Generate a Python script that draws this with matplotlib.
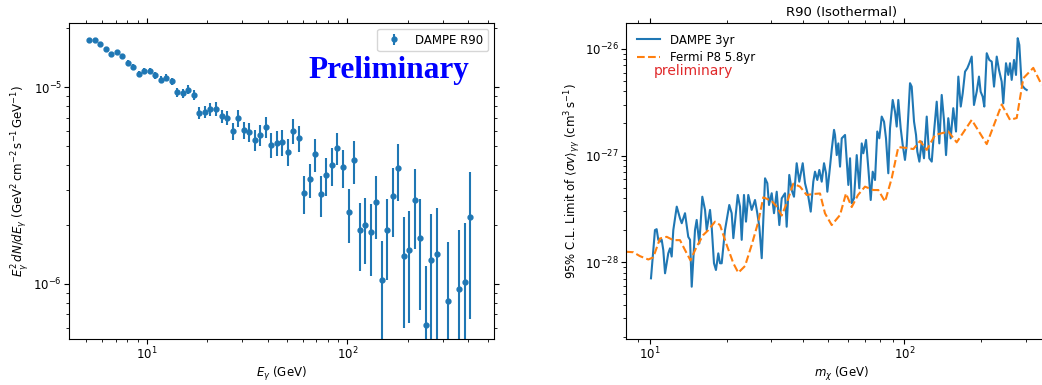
import matplotlib
matplotlib.use('Agg')
import matplotlib.pyplot as plt
import numpy as np

plt.rcParams['font.family'] = ['DejaVu Sans']
plt.rcParams['font.size'] = 8.5
plt.rcParams['mathtext.fontset'] = 'dejavusans'

# spectrum in the R90 region (GeV, flux in 1e-6 GeV cm^-2 s^-1)
energy = [5.16, 5.50, 5.85, 6.24, 6.65, 7.08, 7.54, 8.04, 8.56, 9.12,
          9.72, 10.35, 11.03, 11.75, 12.52, 13.34, 14.21, 15.14, 16.14, 17.19,
          18.32, 19.52, 20.79, 22.15, 23.61, 25.15, 26.80, 28.55, 30.41, 32.40,
          34.52, 36.78, 39.18, 41.75, 44.48, 47.39, 50.48, 53.79, 57.31, 61.05,
          65.05, 69.30, 73.83, 78.67, 83.81, 89.29, 95.13, 101.4, 108.0, 115.1,
          122.6, 130.6, 139.1, 148.3, 158.0, 168.3, 179.3, 191.0, 203.5, 216.8,
          231.0, 246.1, 262.2, 279.4, 317.1, 360.0, 383.6, 408.6]
flux = [17.3, 17.4, 16.6, 15.6, 14.8, 15.1, 14.4, 13.3, 12.7, 11.7,
        12.1, 12.1, 11.5, 10.9, 11.2, 10.7, 9.40, 9.32, 9.72, 9.14,
        7.43, 7.46, 7.73, 7.76, 7.13, 7.01, 6.00, 6.95, 6.07, 5.93,
        5.40, 5.74, 6.28, 5.09, 5.23, 5.25, 4.71, 6.00, 5.50, 2.91,
        3.41, 4.58, 2.87, 3.58, 4.01, 4.93, 3.94, 2.33, 4.26, 1.87,
        2.00, 1.83, 2.62, 1.05, 1.87, 2.81, 3.90, 1.39, 1.49, 2.67,
        1.72, 0.617, 1.32, 1.42, 0.82, 0.947, 1.02, 2.19]
flux_err = [0.43, 0.43, 0.42, 0.39, 0.37, 0.38, 0.36, 0.45, 0.44, 0.41,
            0.42, 0.45, 0.44, 0.44, 0.47, 0.48, 0.47, 0.48, 0.50, 0.50,
            0.52, 0.52, 0.58, 0.66, 0.57, 0.60, 0.60, 0.70, 0.61, 0.65,
            0.65, 0.69, 0.75, 0.74, 0.78, 0.79, 0.73, 0.87, 0.83, 0.64,
            0.68, 0.87, 0.67, 0.79, 0.88, 0.89, 0.87, 0.72, 1.04, 0.71,
            0.74, 0.73, 0.92, 0.61, 0.82, 1.07, 1.25, 0.79, 0.86, 1.17,
            0.98, 0.61, 0.94, 1.01, 0.81, 0.94, 1.01, 1.53]

# line limits, <sigma v> in units of 1e-28 cm^3 s^-1
dampe_mass = [10.09, 10.46, 10.62, 10.78, 10.95, 11.12, 11.28, 11.46, 11.63, 11.80,
              11.99, 12.17, 12.35, 12.74, 13.12, 13.33, 13.73, 14.14, 14.37, 14.59,
              15.03, 15.26, 15.63, 16.06, 16.46, 16.71, 17.22, 17.48, 17.85, 18.17,
              18.56, 18.85, 19.14, 19.72, 20.50, 20.95, 21.27, 22.13, 22.59, 22.94,
              23.42, 23.85, 24.35, 25.11, 25.88, 26.42, 26.91, 27.50, 28.34, 28.93,
              29.38, 30.10, 30.73, 31.50, 32.25, 32.96, 33.96, 34.47, 35.29, 36.07,
              36.83, 37.74, 38.64, 39.86, 40.70, 41.94, 42.86, 43.87, 44.55, 45.49,
              46.33, 47.34, 48.34, 49.23, 49.81, 50.72, 51.82, 52.92, 53.40, 54.23,
              55.03, 55.88, 56.75, 58.47, 60.25, 61.18, 62.12, 63.43, 65.00, 66.53,
              68.01, 69.00, 70.71, 72.19, 73.78, 75.11, 76.70, 78.31, 79.75, 81.50,
              83.22, 84.72, 86.51, 87.86, 90.03, 91.92, 93.35, 94.71, 96.78, 98.55,
              100.6, 102.2, 105.3, 106.9, 109.2, 111.2, 112.5, 114.6, 117.1, 119.5,
              122.5, 125.4, 128.2, 130.9, 134.1, 137.3, 140.3, 143.2, 145.9, 148.9,
              152.2, 155.8, 159.7, 163.1, 166.7, 169.7, 173.3, 176.9, 180.2, 184.1,
              187.9, 192.6, 196.6, 199.6, 203.3, 206.3, 210.9, 215.9, 220.7, 225.3,
              230.9, 235.7, 241.5, 245.0, 251.1, 256.4, 260.4, 264.4, 270.0, 274.9,
              279.2, 283.3, 289.4, 298.2, 302.9]
dampe_sv = [0.706, 2.00, 2.04, 1.62, 1.56, 1.62, 1.30, 0.787, 0.977, 1.21,
            1.35, 1.13, 2.00, 3.32, 2.58, 2.32, 2.88, 1.73, 1.62, 0.589,
            2.00, 2.49, 1.50, 4.11, 3.09, 2.00, 3.09, 2.15, 0.977, 0.845,
            1.21, 0.977, 0.977, 2.00, 3.44, 2.88, 1.68, 4.27, 3.32, 1.62,
            4.27, 2.40, 4.27, 3.09, 3.83, 2.88, 2.15, 1.09, 6.12, 5.50,
            3.44, 4.43, 2.88, 4.58, 2.23, 3.97, 4.43, 2.15, 6.58, 4.75,
            4.11, 8.47, 5.69, 8.47, 5.50, 4.11, 2.98, 5.69, 7.06, 5.90,
            7.33, 5.69, 8.47, 6.82, 4.58, 6.82, 11.3, 17.4, 15.6, 10.1,
            13.0, 7.87, 14.5, 15.6, 5.30, 9.43, 3.57, 3.97, 10.1, 4.93,
            13.0, 10.5, 14.0, 7.60, 3.83, 7.06, 5.90, 16.8, 14.5, 23.2,
            20.8, 14.5, 6.82, 18.0, 33.2, 25.8, 18.7, 33.2, 18.0, 12.6,
            9.10, 12.6, 47.7, 44.3, 20.8, 15.6, 10.9, 8.77, 13.5, 9.43,
            23.2, 9.43, 8.77, 16.8, 32.0, 13.0, 37.0, 21.6, 10.1, 22.4,
            14.5, 27.8, 16.8, 55.0, 28.8, 38.4, 61.2, 65.9, 73.4, 84.7,
            29.8, 39.7, 55.0, 39.7, 35.7, 28.8, 91.1, 78.8, 76.0, 44.3,
            84.7, 63.5, 49.3, 30.9, 73.4, 57.0, 73.4, 51.2, 78.8, 57.0,
            126, 109, 45.9, 42.2, 41.2]

fermi_mass = [8.03, 8.60, 9.13, 9.85, 10.30, 10.95, 11.63, 12.35, 13.12, 13.73,
              14.43, 15.26, 16.20, 16.96, 18.02, 18.85, 20.03, 21.27, 22.24, 23.64,
              25.11, 26.67, 27.90, 30.10, 31.50, 32.96, 34.47, 36.60, 38.90, 41.33,
              43.87, 46.62, 48.77, 51.82, 55.88, 58.97, 62.12, 65.76, 70.05, 75.52,
              79.02, 83.99, 89.22, 94.71, 101.6, 108.5, 115.3, 122.5, 132.1, 148.9,
              160.7, 184.1, 210.9, 241.5, 260.4, 276.7, 293.8, 321.5, 347.0]
fermi_sv = [1.254, 1.24, 1.14, 1.06, 1.11, 1.67, 1.73, 1.61, 1.61, 1.30,
            1.04, 1.40, 1.80, 2.00, 2.40, 2.23, 1.45, 0.977, 0.797, 0.921,
            1.45, 2.40, 4.06, 3.75, 3.32, 2.74, 3.57, 5.45, 5.11, 4.27,
            4.36, 4.41, 2.87, 2.23, 2.77, 4.41, 3.29, 4.27, 5.11, 4.75,
            4.75, 3.70, 6.12, 12.0, 11.8, 11.5, 13.7, 11.3, 15.6, 16.8,
            13.3, 21.6, 12.8, 30.1, 21.6, 22.5, 53.1, 66.4, 45.9]


fig = plt.figure(figsize=(10.42, 3.85), dpi=100)
ax1 = fig.add_axes([0.0662, 0.1195, 0.4079, 0.8208])
ax2 = fig.add_axes([0.6008, 0.1195, 0.414, 0.8208])

# left: spectrum
ax1.errorbar(energy, np.array(flux) * 1e-6, yerr=np.array(flux_err) * 1e-6,
             fmt='o', ms=3.5, elinewidth=1.5, color='#1f77b4', label='DAMPE R90')
ax1.set_xscale('log')
ax1.set_yscale('log')
ax1.set_xlim(4.1, 538)
ax1.set_ylim(5.25e-7, 2.12e-5)
ax1.set_xlabel(r'$E_\gamma$ (GeV)', labelpad=1.5)
ax1.set_ylabel(r'$E_\gamma^2\,dN/dE_\gamma$ (GeV$^2\,$cm$^{-2}\,$s$^{-1}\,$GeV$^{-1}$)',
               labelpad=1.5)
ax1.legend(loc='upper right')
ax1.text(0.753, 0.851, 'Preliminary', transform=ax1.transAxes, ha='center', va='center',
         fontsize=22.5, fontweight='bold', color='blue', family='Liberation Serif')

# right: limits
ax2.plot(dampe_mass, np.array(dampe_sv) * 1e-28, color='#1f77b4', lw=1.5, label='DAMPE 3yr')
ax2.plot(fermi_mass, np.array(fermi_sv) * 1e-28, color='#ff7f0e', lw=1.5, ls='--',
         label='Fermi P8 5.8yr')
ax2.set_xscale('log')
ax2.set_yscale('log')
ax2.set_xlim(8.05, 400)
ax2.set_ylim(1.905e-29, 1.75e-26)
ax2.set_xlabel(r'$m_\chi$ (GeV)', labelpad=1.5)
ax2.set_ylabel(r'95% C.L. Limit of $\langle\sigma v\rangle_{\gamma\gamma}$ (cm$^3\,$s$^{-1}$)',
               labelpad=1.5)
ax2.set_title('R90 (Isothermal)', fontsize=9.5, pad=5)
ax2.legend(loc='upper left', frameon=False, labelspacing=0.35)
ax2.text(0.064, 0.848, 'preliminary', transform=ax2.transAxes, ha='left', va='center',
         fontsize=10, color='#e0282a')

for ax in (ax1, ax2):
    ax.tick_params(which='both', direction='out', top=True, right=True, pad=1.5)

fig.savefig('out.png', dpi=100)
